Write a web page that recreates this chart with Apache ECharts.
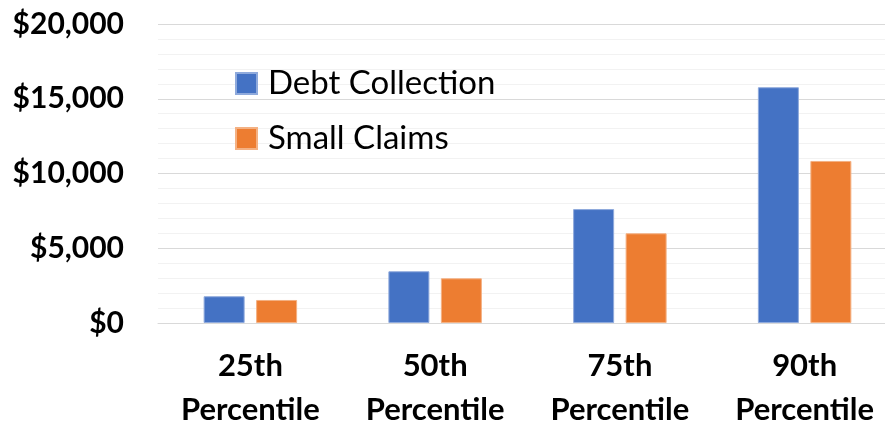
<!DOCTYPE html>
<html>
<head>
<meta charset="utf-8">
<script src="https://cdn.jsdelivr.net/npm/echarts@6/dist/echarts.min.js"></script>
<style>
  html, body { margin: 0; padding: 0; background: #fff; }
  #chart { width: 885px; height: 425px; }
</style>
</head>
<body>
<div id="chart"></div>
<script>
const categories = ["25th\nPercentile", "50th\nPercentile", "75th\nPercentile", "90th\nPercentile"];
const debtCollection = [1790, 3460, 7620, 15770];
const smallClaims = [1540, 2990, 6000, 10840];
const seriesNames = ["Debt Collection", "Small Claims"];

const font = "Lato";
const chart = echarts.init(document.getElementById("chart"));
chart.setOption({
  animation: false,
  color: ["#4472C4", "#ED7D31"],
  legend: {
    orient: "vertical",
    left: 230,
    top: 62,
    itemWidth: 21,
    itemHeight: 21,
    itemGap: 22,
    icon: "rect",
    textStyle: { fontFamily: font, fontSize: 33, color: "#000", padding: [0, 0, 0, 6] },
    data: seriesNames
  },
  grid: { left: 158, top: 24, width: 739, height: 299, outerBoundsMode: "none", containLabel: false },
  xAxis: {
    type: "category",
    data: categories,
    axisLine: { lineStyle: { color: "#d9d9d9", width: 1 } },
    axisTick: { show: false },
    axisLabel: {
      fontFamily: font, fontSize: 31, fontWeight: "bold", color: "#000",
      lineHeight: 44, margin: 21
    }
  },
  yAxis: {
    type: "value",
    min: 0,
    max: 20000,
    interval: 5000,
    axisLine: { show: false },
    axisTick: { show: false },
    axisLabel: {
      fontFamily: font, fontSize: 30, fontWeight: "bold", color: "#000", margin: 34,
      formatter: v => "$" + v.toLocaleString("en-US")
    },
    splitLine: { lineStyle: { color: "#d9d9d9", width: 1 } },
    minorTick: { show: false, splitNumber: 5 },
    minorSplitLine: { show: true, lineStyle: { color: "#f2f2f2", width: 1 } }
  },
  series: [
    {
      name: seriesNames[0], type: "bar", data: debtCollection,
      barWidth: 41, barGap: "28%",
      itemStyle: { borderColor: "#8faadc", borderWidth: 1 }
    },
    {
      name: seriesNames[1], type: "bar", data: smallClaims,
      barWidth: 41, barGap: "28%",
      itemStyle: { borderColor: "#f4b183", borderWidth: 1 }
    }
  ]
});
</script>
</body>
</html>
